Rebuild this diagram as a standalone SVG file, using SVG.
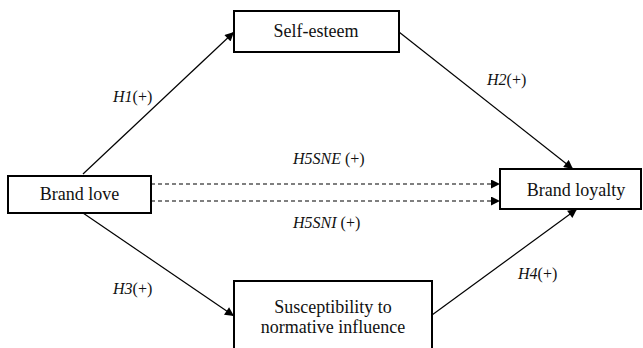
<svg xmlns="http://www.w3.org/2000/svg" width="643" height="348" viewBox="0 0 643 348">
<style>
.box{fill:#fff;stroke:#000;stroke-width:2}
.nt{font-family:"Liberation Serif","Times New Roman",serif;font-size:18px;fill:#111;text-anchor:middle}
.lb{font-family:"Liberation Serif","Times New Roman",serif;font-size:16px;fill:#111}
.ln{stroke:#000;stroke-width:1.2;fill:none}
.dash{stroke-dasharray:4 3}
</style>
<defs>
<marker id="ah" viewBox="0 0 10 10" refX="10" refY="5" markerWidth="11" markerHeight="9" markerUnits="userSpaceOnUse" orient="auto">
<path d="M0,0 L10,5 L0,10 Z" fill="#000"/>
</marker>
</defs>
<rect width="643" height="348" fill="#fff"/>
<g id="connectors">
<line class="ln" x1="83" y1="174" x2="234" y2="32" marker-end="url(#ah)"/>
<line class="ln" x1="399" y1="32" x2="573" y2="169" marker-end="url(#ah)"/>
<line class="ln" x1="83" y1="213" x2="234" y2="316" marker-end="url(#ah)"/>
<line class="ln" x1="432" y1="315" x2="577" y2="209" marker-end="url(#ah)"/>
<line class="ln dash" x1="151" y1="184" x2="500" y2="184" marker-end="url(#ah)"/>
<line class="ln dash" x1="151" y1="201" x2="500" y2="201" marker-end="url(#ah)"/>
<text class="lb" x="113" y="102"><tspan font-style="italic">H1</tspan>(+)</text>
<text class="lb" x="487" y="85"><tspan font-style="italic">H2</tspan>(+)</text>
<text class="lb" x="113" y="294"><tspan font-style="italic">H3</tspan>(+)</text>
<text class="lb" x="518" y="279"><tspan font-style="italic">H4</tspan>(+)</text>
<text class="lb" x="293" y="164"><tspan font-style="italic">H5SNE</tspan> (+)</text>
<text class="lb" x="293" y="228"><tspan font-style="italic">H5SNI</tspan> (+)</text>
</g>
<g id="brand-love">
<rect class="box" x="8" y="176" width="143" height="37"/>
<text class="nt" x="79.5" y="200">Brand love</text>
</g>
<g id="self-esteem">
<rect class="box" x="234" y="11" width="165" height="41"/>
<text class="nt" x="316" y="37">Self-esteem</text>
</g>
<g id="brand-loyalty">
<rect class="box" x="500" y="169" width="141" height="40"/>
<text class="nt" x="576" y="196">Brand loyalty</text>
</g>
<g id="susceptibility">
<rect class="box" x="234" y="281" width="198" height="75"/>
<text class="nt" x="333" y="313">Susceptibility to</text>
<text class="nt" x="333" y="333">normative influence</text>
</g>
</svg>
